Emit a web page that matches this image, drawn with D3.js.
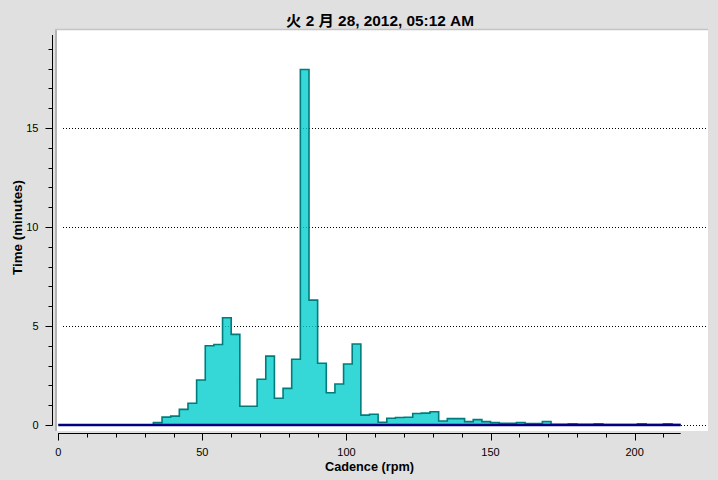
<!DOCTYPE html>
<html>
<head>
<meta charset="utf-8">
<script src="https://cdn.jsdelivr.net/npm/d3@7"></script>
<style>
  html, body { margin: 0; padding: 0; background: #e0e0e0; }
  svg { display: block; }
</style>
</head>
<body>
<svg id="chart" width="718" height="480"></svg>
<script>
// ---- data ----
const title = "火 2 月 28, 2012, 05:12 AM";
const xLabel = "Cadence (rpm)";
const yLabel = "Time (minutes)";
// bin start cadence (rpm), 3 rpm bins
const binStarts = d3.range(0, 216, 3);
// minutes spent in each bin
const minutes = [
  0, 0, 0, 0, 0, 0, 0, 0, 0, 0, 0,          // 0 - 30
  0.12, 0.40, 0.45, 0.79, 1.10, 2.27,       // 33 - 48
  4.00, 4.07, 5.42, 4.58, 0.95, 0.95,       // 51 - 66
  2.31, 3.48, 1.35, 1.85, 3.32, 17.96,      // 69 - 84
  6.31, 3.12, 1.63, 2.07, 3.08, 4.09,       // 87 - 102
  0.50, 0.54, 0.14, 0.34, 0.38, 0.39,       // 105 - 120
  0.58, 0.60, 0.67, 0.20, 0.32, 0.32,       // 123 - 138
  0.17, 0.27, 0.17, 0.12, 0.08, 0.08,       // 141 - 156
  0.13, 0.07, 0.07, 0.18, 0.04, 0.04,       // 159 - 174
  0.06, 0.03, 0.03, 0.06, 0.02, 0.02,       // 177 - 192
  0.02, 0.02, 0.06, 0.02, 0.02, 0.06,       // 195 - 210
  0.02                                      // 213
];
const xMajorTicks = [0, 50, 100, 150, 200];
const xMinorTicks = d3.range(0, 216, 10);
const yMajorTicks = [0, 5, 10, 15];
const yMinorTicks = d3.range(0, 20, 1);
const gridValues = [0, 5, 10, 15];

// ---- layout ----
const svg = d3.select("#chart");
const box = {left: 57, top: 30, right: 708, bottom: 431};
const x = d3.scaleLinear().domain([0, 216]).range([58.3, 680.7]);
const y = d3.scaleLinear().domain([0, 19.7]).range([425, 35]);

// plot box
svg.append("rect")
  .attr("x", box.left).attr("y", box.top)
  .attr("width", box.right - box.left).attr("height", box.bottom - box.top)
  .attr("fill", "#ffffff");
svg.append("line")
  .attr("x1", 56).attr("x2", 56).attr("y1", 29).attr("y2", box.bottom)
  .attr("stroke", "#b4b4b4").attr("stroke-width", 2);
svg.append("line")
  .attr("x1", 55).attr("x2", box.right).attr("y1", 29.5).attr("y2", 29.5)
  .attr("stroke", "#c4c4c4").attr("stroke-width", 1.5);

// gridlines
svg.append("g").selectAll("line").data(gridValues).join("line")
  .attr("x1", 63).attr("x2", 706)
  .attr("y1", d => Math.round(y(d)) + 0.5).attr("y2", d => Math.round(y(d)) + 0.5)
  .attr("stroke", "#000").attr("stroke-width", 1)
  .attr("stroke-dasharray", "1,2");

// histogram
const pts = binStarts.map((b, i) => [b, minutes[i]]);
pts.push([216, minutes[minutes.length - 1]]);
const area = d3.area()
  .x(d => x(d[0])).y0(y(0)).y1(d => y(d[1]))
  .curve(d3.curveStepAfter);
const line = d3.line()
  .x(d => x(d[0])).y(d => y(d[1]))
  .curve(d3.curveStepAfter);
svg.append("path").datum(pts)
  .attr("d", area)
  .attr("fill", "#04cdcd").attr("fill-opacity", 0.8);
svg.append("path").datum(pts)
  .attr("d", line)
  .attr("fill", "none").attr("stroke", "#007c7c").attr("stroke-width", 1.6);

// navy baseline
svg.append("line")
  .attr("x1", x(0)).attr("x2", x(216))
  .attr("y1", y(0)).attr("y2", y(0))
  .attr("stroke", "#000080").attr("stroke-width", 2.5);

// y axis
const yAxisX = 52.5;
const gy = svg.append("g").attr("font-family", "'Liberation Sans', Arial, sans-serif").attr("font-size", 11);
gy.append("line").attr("x1", yAxisX).attr("x2", yAxisX).attr("y1", 35).attr("y2", y(0))
  .attr("stroke", "#000").attr("stroke-width", 1);
gy.selectAll("line.minor").data(yMinorTicks).join("line").attr("class", "minor")
  .attr("x1", yAxisX - 4).attr("x2", yAxisX)
  .attr("y1", d => Math.round(y(d)) + 0.5).attr("y2", d => Math.round(y(d)) + 0.5)
  .attr("stroke", "#000");
gy.selectAll("line.major").data(yMajorTicks).join("line").attr("class", "major")
  .attr("x1", yAxisX - 7).attr("x2", yAxisX)
  .attr("y1", d => Math.round(y(d)) + 0.5).attr("y2", d => Math.round(y(d)) + 0.5)
  .attr("stroke", "#000");
gy.selectAll("text").data(yMajorTicks).join("text")
  .attr("x", 38.5).attr("y", d => y(d) + 4)
  .attr("text-anchor", "end").attr("fill", "#000")
  .text(d => d);

// x axis
const xAxisY = 433.5;
const gx = svg.append("g").attr("font-family", "'Liberation Sans', Arial, sans-serif").attr("font-size", 11);
gx.append("line").attr("x1", x(0)).attr("x2", x(216)).attr("y1", xAxisY).attr("y2", xAxisY)
  .attr("stroke", "#000").attr("stroke-width", 1);
gx.selectAll("line.minor").data(xMinorTicks).join("line").attr("class", "minor")
  .attr("x1", d => Math.round(x(d)) + 0.5).attr("x2", d => Math.round(x(d)) + 0.5)
  .attr("y1", xAxisY).attr("y2", xAxisY + 4)
  .attr("stroke", "#000");
gx.selectAll("line.major").data(xMajorTicks).join("line").attr("class", "major")
  .attr("x1", d => Math.round(x(d)) + 0.5).attr("x2", d => Math.round(x(d)) + 0.5)
  .attr("y1", xAxisY).attr("y2", xAxisY + 7)
  .attr("stroke", "#000");
gx.selectAll("text").data(xMajorTicks).join("text")
  .attr("x", d => x(d)).attr("y", 456)
  .attr("text-anchor", "middle").attr("fill", "#000")
  .text(d => d);

// labels
const labelFont = "'Liberation Sans', 'Noto Sans CJK JP', Arial, sans-serif";
svg.append("text")
  .attr("x", 380).attr("y", 25.5)
  .attr("text-anchor", "middle")
  .attr("font-family", labelFont).attr("font-weight", "bold").attr("font-size", 15)
  .attr("textLength", 188).attr("lengthAdjust", "spacingAndGlyphs")
  .attr("fill", "#000")
  .text(title);
svg.append("text")
  .attr("x", 369.5).attr("y", 470.5)
  .attr("text-anchor", "middle")
  .attr("font-family", labelFont).attr("font-weight", "bold").attr("font-size", 12)
  .attr("textLength", 89).attr("lengthAdjust", "spacingAndGlyphs")
  .attr("fill", "#000")
  .text(xLabel);
svg.append("text")
  .attr("transform", "translate(22,227.5) rotate(-90)")
  .attr("text-anchor", "middle")
  .attr("font-family", labelFont).attr("font-weight", "bold").attr("font-size", 12)
  .attr("textLength", 95).attr("lengthAdjust", "spacingAndGlyphs")
  .attr("fill", "#000")
  .text(yLabel);
</script>
</body>
</html>
